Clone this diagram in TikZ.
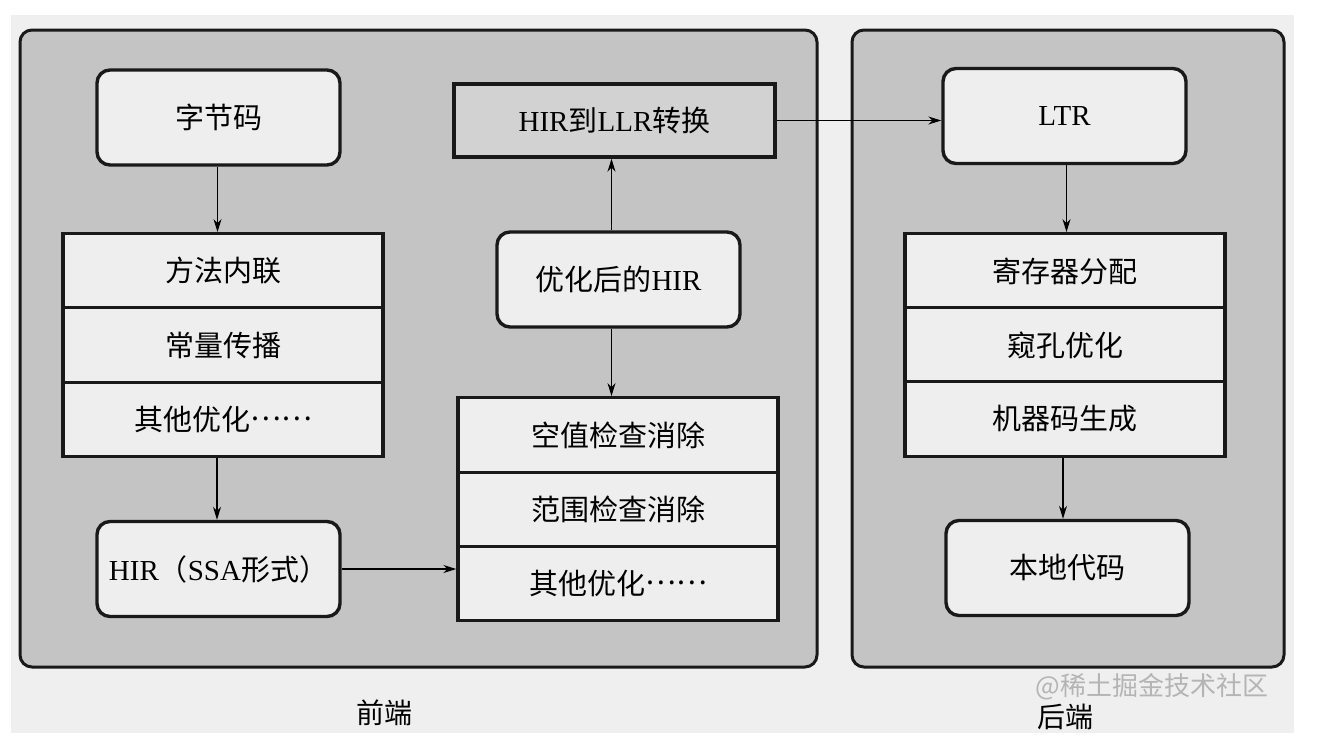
\documentclass[tikz,border=0pt]{standalone}
\usepackage{fontspec}
\setmainfont{Liberation Serif}
\newfontfamily\cjk{Noto Sans CJK SC}
\usetikzlibrary{arrows.meta}
\definecolor{pagebg}{HTML}{EFEFEF}
\definecolor{panelfill}{HTML}{C4C4C4}
\definecolor{boxfill}{HTML}{EEEEEE}
\definecolor{darkbox}{HTML}{D2D2D2}
\definecolor{wmark}{HTML}{B4B4B4}
\newcommand\middots{\raisebox{0.33em}{……}}
\begin{document}
\begin{tikzpicture}[x=1pt,y=-1pt,
  panel/.style={draw=black!90, line width=3pt, rounded corners=12pt, fill=panelfill},
  rbox/.style={draw=black!90, line width=3.4pt, rounded corners=13pt, fill=boxfill,
    minimum width=243pt, minimum height=95pt, inner sep=0pt, font=\fontsize{29}{34}\selectfont},
  sbox/.style={draw=black!90, line width=3.4pt, fill=boxfill,
    minimum width=320pt, minimum height=74.5pt, inner sep=0pt, font=\fontsize{29}{34}\selectfont},
  dbox/.style={sbox, fill=darkbox, minimum width=321pt, minimum height=73pt},
  arr/.style={-{Stealth[length=13pt,width=8pt]}, line width=1.3pt},
  lbl/.style={font=\fontsize{28}{32}\selectfont\cjk, inner sep=0pt}]
\useasboundingbox (0,0) rectangle (1320,750);
\fill[white] (0,0) rectangle (1320,750);
\fill[pagebg] (11,15) rectangle (1294,733);
% panels
\draw[panel] (20,30) rectangle (817,667);
\draw[panel] (852,30) rectangle (1284,667);
% left column
\node[rbox] (bc) at (218.5,117.5) {\cjk 字节码};
\node[sbox] (l1) at (223,271) {\cjk 方法内联};
\node[sbox] (l2) at (223,345) {\cjk 常量传播};
\node[sbox] (l3) at (223,419.5) {\cjk 其他优化\middots};
\node[rbox] (ssa) at (218.5,569) {HIR{\cjk （}SSA{\cjk 形式）}};
% middle column
\node[dbox] (llr) at (614.5,120.5) {HIR{\cjk 到}LLR{\cjk 转换}};
\node[rbox] (opt) at (618.5,279.5) {{\cjk 优化后的}HIR};
\node[sbox] (m1) at (618,435) {\cjk 空值检查消除};
\node[sbox] (m2) at (618,509.5) {\cjk 范围检查消除};
\node[sbox] (m3) at (618,583.5) {\cjk 其他优化\middots};
% right column
\node[rbox] (ltr) at (1064.5,116) {LTR};
\node[sbox] (r1) at (1065,271) {\cjk 寄存器分配};
\node[sbox] (r2) at (1065,345) {\cjk 窥孔优化};
\node[sbox] (r3) at (1065,419) {\cjk 机器码生成};
\node[rbox] (nat) at (1067.5,568) {\cjk 本地代码};
% arrows
\draw[arr] ([xshift=-1pt]bc.south) -- ([xshift=-1pt]bc.south |- l1.north);
\draw[arr] ([xshift=-6pt]l3.south) -- ([xshift=-6pt]l3.south |- ssa.north);
\draw[arr] (ssa.east) -- (ssa.east -| m3.west);
\draw[arr] ([xshift=-7pt]opt.north) -- ([xshift=-7pt]opt.north |- llr.south);
\draw[arr] ([xshift=-7pt]opt.south) -- ([xshift=-7pt]opt.south |- m1.north);
\draw[arr] (llr.east) -- (llr.east -| ltr.west);
\draw[arr] ([xshift=2pt]ltr.south) -- ([xshift=2pt]ltr.south |- r1.north);
\draw[arr] ([xshift=-2pt]r3.south) -- ([xshift=-2pt]r3.south |- nat.north);
% labels
\node[lbl] (fe) at (384,713) {前端};
\node[lbl, text=wmark, font=\fontsize{26}{30}\selectfont\cjk] (wm) at (1152,687) {@稀土掘金技术社区};
\node[lbl] (be) at (1065,717) {后端};
\end{tikzpicture}
\end{document}
